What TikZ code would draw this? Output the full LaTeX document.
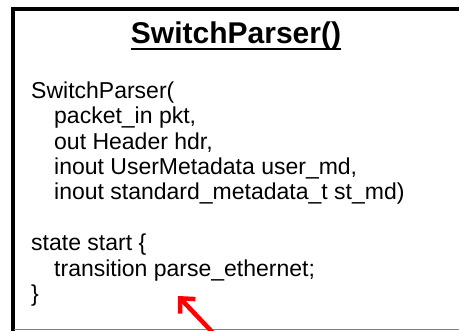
\documentclass[tikz,border=0pt]{standalone}
\usepackage{fontspec}
\setmainfont{Liberation Sans}
\usetikzlibrary{arrows.meta}

\begin{document}
\begin{tikzpicture}[x=1pt,y=-1pt]
	\useasboundingbox (0,0) rectangle (459,331);
	\fill[white] (0,0) rectangle (459,331);
	% frame of the slide box
	\draw[line width=4pt] (12.5,335) -- (12.5,9.5) -- (470,9.5);
	\draw[gray,line width=1pt] (14,329.5) -- (470,329.5);
	% title
	\node[font=\bfseries\fontsize{30}{33}\selectfont,anchor=base,inner sep=0] (title) at (236,44) {SwitchParser()};
	\draw[line width=2pt] ([yshift=-5pt]title.base west) -- ([yshift=-5pt]title.base east);
	% code (base anchor sits on the last line)
	\node[font=\fontsize{23}{25.5}\selectfont,anchor=base west,align=left,inner sep=0] (code) at (31,302) {SwitchParser(\\
		\hspace*{23pt}packet\_in pkt,\\
		\hspace*{23pt}out Header hdr,\\
		\hspace*{23pt}inout UserMetadata user\_md,\\
		\hspace*{23pt}inout standard\_metadata\_t st\_md)\\[25.5pt]
		state start \{\\
		\hspace*{23pt}transition parse\_ethernet;\\
		\}};
	% pointer
	\coordinate (tail) at (216,336);
	\coordinate (tip) at (178,296);
	\draw[red,line width=4.5pt,-{Straight Barb[length=11pt,width=21pt]}] (tail) -- (tip);
\end{tikzpicture}
\end{document}
